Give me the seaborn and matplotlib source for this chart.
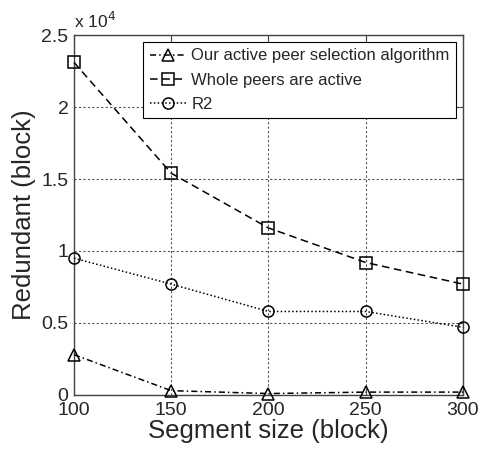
import numpy as np
import pandas as pd
import matplotlib
matplotlib.use("Agg")
import matplotlib.pyplot as plt
import seaborn as sns
from matplotlib.ticker import FuncFormatter

segment = [100, 150, 200, 250, 300]
ours = [2800, 300, 100, 200, 200]
whole = [23100, 15400, 11600, 9200, 7700]
r2 = [9500, 7700, 5800, 5800, 4700]
labels = ["Our active peer selection algorithm", "Whole peers are active", "R2"]

sns.set_style("white")
plt.rcParams['font.family'] = ['Liberation Sans', 'DejaVu Sans']

fig = plt.figure(figsize=(4.82, 4.49), dpi=100)
ax = fig.add_axes([0.1535, 0.1203, 0.807, 0.8017])

series = [(ours, "^", (0, (4, 2, 1, 2))), (whole, "s", (0, (5, 3))), (r2, "o", (0, (1, 1.5)))]
for (vals, mk, ls), lab in zip(series, labels):
    df = pd.DataFrame({"x": segment, "y": vals})
    sns.lineplot(data=df, x="x", y="y", ax=ax, color="black", linewidth=1.1,
                 marker=mk, markersize=8, markerfacecolor="none",
                 markeredgecolor="black", markeredgewidth=1.1,
                 linestyle=ls, label=lab, clip_on=False, zorder=5)

ax.set_xlim(100, 300)
ax.set_ylim(0, 25000)
ax.set_xticks(segment)
ax.set_yticks(np.arange(0, 25001, 5000))
ax.yaxis.set_major_formatter(FuncFormatter(lambda v, p: f"{v/1e4:g}"))
ax.grid(True, linestyle=(0, (2, 2)), color="#555555", linewidth=0.8)
ax.tick_params(direction="in", top=True, right=True, labelsize=14, length=5, color="#444444")
ax.tick_params(axis="x", pad=5)
ax.tick_params(axis="y", pad=4)
for s in ax.spines.values():
    s.set_color("#444444")
    s.set_linewidth(1)
ax.set_xlabel("Segment size (block)", fontsize=18.5, labelpad=0)
ax.set_ylabel("Redundant (block)", fontsize=18.5, labelpad=4)
ax.text(0.0, 1.012, "x 10$^4$", transform=ax.transAxes, fontsize=12.5, va="bottom", ha="left")

leg = ax.legend(loc="upper right", fontsize=12, frameon=True, fancybox=False,
                handlelength=2.2, borderaxespad=0.4, labelspacing=0.55, handletextpad=0.3,
                borderpad=0.4)
leg.get_frame().set_edgecolor("black")
leg.get_frame().set_linewidth(0.8)
leg.get_frame().set_alpha(1)
leg.set_zorder(10)

fig.savefig("out.png", dpi=100)
